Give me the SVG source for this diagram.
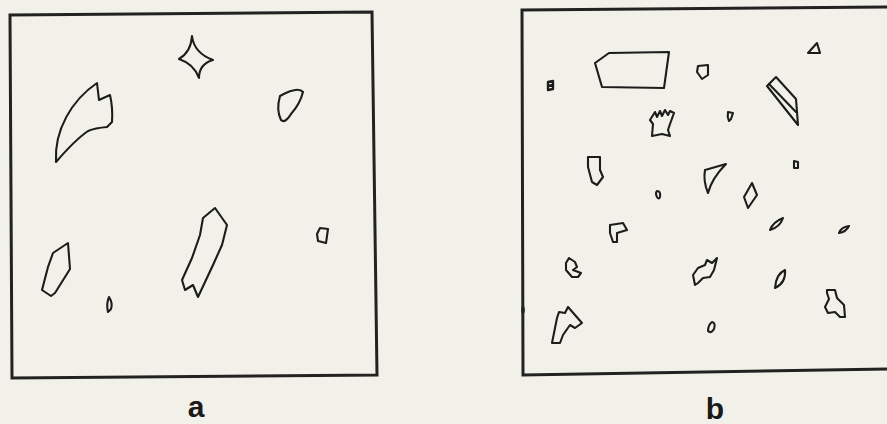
<svg xmlns="http://www.w3.org/2000/svg" width="887" height="424" viewBox="0 0 887 424">
<style>
.bg{fill:#f2f1e9}
.frame{fill:none;stroke:#222;stroke-width:3;stroke-linejoin:miter}
.p{fill:none;stroke:#1c1c1c;stroke-width:2.1;stroke-linejoin:round;stroke-linecap:round}
.s{fill:none;stroke:#1c1c1c;stroke-width:2.4;stroke-linejoin:round}
.lbl{font-family:"Liberation Sans",Arial,sans-serif;font-size:30px;font-weight:bold;fill:#1a1a1a;text-anchor:middle}
</style>
<rect class="bg" x="0" y="0" width="887" height="424"/>

<g id="panel-a">
  <polygon class="frame" points="10,15 372,12 377,375 12,378"/>
  <path class="p" d="M192,36 Q194,53 213,60 Q199,64 199,78 Q194,64 179,59 Q191,52 192,36 Z"/>
  <path class="p" d="M56,162 C54,130 72,100 97,83 L99,100 L110,95 Q113,108 112,122 L107,127 Q95,128 88,131 Q75,140 56,162 Z"/>
  <path class="p" d="M280,96 Q298,86 303,92 Q300,104 291,114 Q285,124 281,120 Q276,110 280,96 Z"/>
  <polygon class="p" points="68,243 70,269 55,293 51,296 42,290 48,267 53,253"/>
  <polygon class="p" points="215,208 227,225 222,245 213,265 198,297 193,285 185,290 182,280 192,258 200,235 203,218"/>
  <polygon class="p" points="320,228 328,229 326,243 318,241 317,234"/>
  <path class="p" d="M109,297 Q113,303 111,309 L108,312 Q106,304 109,297 Z"/>
  <text class="lbl" x="196" y="417">a</text>
</g>

<g id="panel-b">
  <polyline class="frame" points="887,7 522,10 523,375 887,369"/>
  <ellipse cx="523" cy="310" rx="1.8" ry="4" fill="#222"/>
  <path class="s" d="M548,82 L553,81 L553,89 L548,90 Z M548,86 L553,85"/>
  <polygon class="p" points="595,63 609,53 669,52 664,88 602,87"/>
  <polygon class="p" points="698,66 708,65 708,75 702,79 697,72"/>
  <polygon class="p" points="808,53 817,43 820,53"/>
  <polygon class="p" points="767,86 776,77 796,99 798,125"/>
  <line class="p" x1="769" y1="84" x2="796" y2="112"/>
  <path class="p" d="M728,112 L733,113 L731,119 L729,121 Q727,117 728,112 Z"/>
  <path class="p" d="M794,161 L798,162 L798,168 L794,168 Z"/>
  <path class="p" d="M705,170 L726,164 Q712,178 708,193 Q703,181 705,170 Z"/>
  <polygon class="p" points="752,183 757,195 748,208 744,197"/>
  <path class="p" d="M657,191 Q661,191 660,197 Q659,200 657,197 Q655,193 657,191 Z"/>
  <polygon class="p" points="652,136 653,124 650,120 655,112 657,117 660,111 662,116 665,110 668,115 670,111 674,113 670,124 668,130 670,136 662,134"/>
  <polygon class="p" points="588,157 600,157 600,170 603,177 597,185 592,182 588,167"/>
  <polygon class="p" points="610,225 623,223 627,230 617,233 617,242 613,242 610,233"/>
  <polygon class="p" points="569,258 575,262 577,267 573,270 581,273 578,277 572,277 566,270 566,263"/>
  <polygon class="p" points="552,343 557,318 559,312 565,313 568,307 582,323 575,328 570,325 563,335 560,343"/>
  <polygon class="p" points="695,285 693,275 698,268 705,265 707,260 712,263 717,258 714,270 710,277 703,278 698,283"/>
  <path class="p" d="M770,230 Q773,222 783,218 Q780,227 770,230 Z"/>
  <path class="p" d="M839,233 Q841,227 849,226 Q846,232 839,233 Z"/>
  <path class="p" d="M775,288 Q776,274 785,270 Q786,283 775,288 Z"/>
  <polygon class="p" points="827,290 835,290 837,298 844,305 845,317 840,317 835,312 828,313 825,307 829,299 827,293"/>
  <path class="p" d="M712,322 Q716,323 714,329 Q711,334 708,331 Q708,325 712,322 Z"/>
  <text class="lbl" x="715" y="419">b</text>
</g>
</svg>
